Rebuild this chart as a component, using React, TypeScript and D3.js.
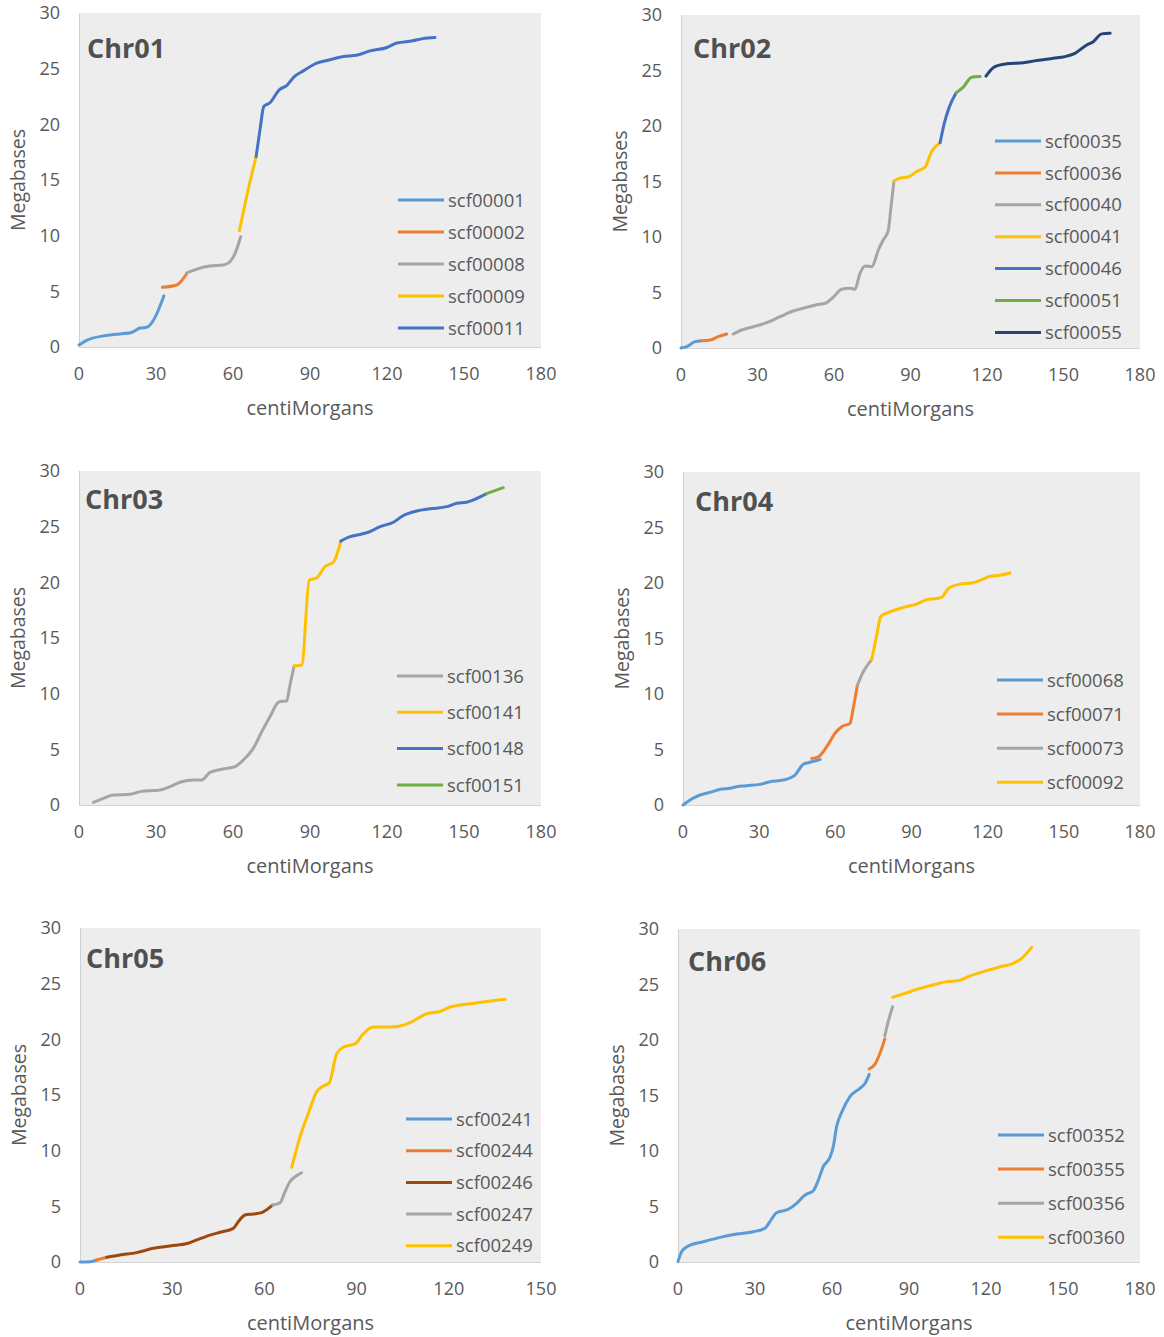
import React from "react";
import * as d3 from "d3";

type Pt = [number, number];

// Marker positions (centiMorgans) against physical positions (Megabases), one array per scaffold.
const chr01_scf00001: Pt[] = [[0, 0.18], [3, 0.6], [9.5, 1.0], [16, 1.17], [20.5, 1.3], [23.8, 1.7], [26.4, 1.77], [29, 2.4], [30.9, 3.3], [33.1, 4.6]];
const chr01_scf00002: Pt[] = [[32.5, 5.36], [38, 5.57], [40, 5.96], [42, 6.6]];
const chr01_scf00008: Pt[] = [[42, 6.65], [45.9, 7.0], [51, 7.27], [56.2, 7.36], [58.8, 7.66], [60.8, 8.4], [63, 9.9]];
const chr01_scf00009: Pt[] = [[62.5, 10.45], [65.3, 13.5], [69, 17.1]];
const chr01_scf00011: Pt[] = [[69, 17.1], [70.5, 19.5], [72, 21.6], [74.4, 21.94], [78, 23.1], [81, 23.5], [83.8, 24.27], [87.4, 24.8], [92.6, 25.5], [97.8, 25.8], [103, 26.1], [108, 26.2], [113.4, 26.6], [120, 26.9], [123.8, 27.3], [130, 27.5], [134, 27.7], [138.7, 27.8]];

const chr02_scf00035: Pt[] = [[0, 0], [2.2, 0.12], [5.5, 0.57], [8.1, 0.66]];
const chr02_scf00036: Pt[] = [[8.1, 0.66], [11.4, 0.72], [14.6, 1.02], [17.9, 1.26]];
const chr02_scf00040: Pt[] = [[20.5, 1.26], [23.8, 1.62], [28.4, 1.92], [33.6, 2.28], [38.8, 2.82], [44, 3.33], [48, 3.58], [53.2, 3.9], [56.5, 4.03], [59.7, 4.57], [63, 5.29], [66.3, 5.38], [68.2, 5.29], [70.2, 6.73], [72.2, 7.39], [74.8, 7.33], [77.4, 8.83], [79.3, 9.73], [81.3, 10.6], [82.2, 12.4], [83.5, 15.0]];
const chr02_scf00041: Pt[] = [[83.5, 15.05], [85.9, 15.3], [89.1, 15.4], [92.4, 15.9], [95.7, 16.3], [98.3, 17.7], [101.6, 18.5]];
const chr02_scf00046: Pt[] = [[101.6, 18.5], [103.2, 20.2], [105.2, 21.7], [107.9, 23.0]];
const chr02_scf00051: Pt[] = [[107.9, 23.0], [110.7, 23.5], [114, 24.4], [117.3, 24.45]];
const chr02_scf00055: Pt[] = [[119.6, 24.5], [123.1, 25.35], [127.7, 25.6], [134.2, 25.7], [139.5, 25.9], [146, 26.1], [150.6, 26.25], [154.5, 26.55], [159.1, 27.3], [161.7, 27.6], [165, 28.3], [168.3, 28.35]];

const chr03_scf00136: Pt[] = [[5.6, 0.24], [9.5, 0.6], [13.4, 0.9], [19.9, 0.96], [23.8, 1.2], [31.6, 1.35], [35.5, 1.65], [39.4, 2.04], [44.5, 2.25], [47.8, 2.25], [51, 2.93], [56.2, 3.23], [60.8, 3.44], [64, 4.04], [67.9, 5.09], [71.2, 6.58], [74.4, 7.93], [78, 9.28], [80.9, 9.34], [82.2, 10.78], [83.8, 12.48]];
const chr03_scf00141: Pt[] = [[83.8, 12.48], [86.8, 12.57], [89.7, 20.2], [92.6, 20.4], [95.8, 21.4], [99.1, 21.8], [102, 23.7]];
const chr03_scf00148: Pt[] = [[102, 23.7], [105.6, 24.1], [109.5, 24.3], [112.7, 24.5], [117.3, 25.0], [122.5, 25.4], [126.4, 26.0], [131.6, 26.4], [136.8, 26.6], [143.3, 26.8], [147.2, 27.1], [151, 27.2], [158.8, 27.97]];
const chr03_scf00151: Pt[] = [[158.8, 27.97], [165.3, 28.5]];

const chr04_scf00068: Pt[] = [[0, 0], [2.8, 0.45], [6.7, 0.9], [10.6, 1.14], [15.2, 1.44], [18.5, 1.5], [21.1, 1.65], [25.1, 1.74], [30.3, 1.86], [34.3, 2.1], [39.5, 2.25], [44.1, 2.7], [47.4, 3.67], [49.4, 3.81], [54, 4.1]];
const chr04_scf00071: Pt[] = [[50.7, 4.2], [53.3, 4.35], [56.6, 5.25], [59.9, 6.46], [62.5, 7.05], [65.8, 7.36], [66.8, 8.4], [68.7, 10.8]];
const chr04_scf00073: Pt[] = [[68.7, 10.8], [71, 12.0], [74.3, 13.1]];
const chr04_scf00092: Pt[] = [[74.3, 13.1], [76.3, 15.3], [77.9, 17.0], [81.5, 17.4], [86.8, 17.8], [92, 18.1], [96, 18.5], [99.9, 18.6], [101.9, 18.7], [104.5, 19.5], [109.1, 19.9], [113.7, 20.0], [117.7, 20.3], [120.9, 20.6], [124.9, 20.7], [128.8, 20.9]];

const chr05_scf00241: Pt[] = [[0, 0], [3.3, 0.03], [5.4, 0.18]];
const chr05_scf00244: Pt[] = [[5.4, 0.18], [8.7, 0.42]];
const chr05_scf00246: Pt[] = [[8.7, 0.42], [13, 0.63], [18.4, 0.84], [23.9, 1.23], [29.3, 1.44], [35.2, 1.68], [38, 1.98], [42.3, 2.42], [45.6, 2.67], [49.9, 3.02], [51.5, 3.62], [53.7, 4.22], [56.4, 4.31], [59.1, 4.43], [62.7, 5.12]];
const chr05_scf00247: Pt[] = [[62.7, 5.12], [65.1, 5.33], [66.7, 6.31], [68.3, 7.21], [70, 7.66], [72.1, 8.02]];
const chr05_scf00249: Pt[] = [[68.9, 8.5], [71.6, 11.25], [74.3, 13.35], [77, 15.3], [79.2, 15.8], [81.1, 16.1], [83.5, 18.7], [85.7, 19.3], [89.5, 19.6], [92.2, 20.5], [95.4, 21.1], [100.9, 21.1], [107.4, 21.5], [110.6, 22.0], [112.8, 22.3], [117.1, 22.5], [120.4, 22.9], [126.9, 23.2], [132.3, 23.4], [138.3, 23.6]];

const chr06_scf00352: Pt[] = [[0, 0.03], [1.4, 0.93], [4, 1.44], [9.9, 1.83], [16.4, 2.22], [22.9, 2.52], [29.3, 2.73], [33.9, 3.04], [35.8, 3.63], [38.4, 4.44], [43, 4.75], [46.2, 5.29], [49.5, 6.04], [52.7, 6.42], [54.7, 7.39], [56.6, 8.59], [59.2, 9.43], [60.5, 10.4], [61.8, 12.2], [63.8, 13.5], [67, 14.9], [70.9, 15.65], [72.9, 16.1], [74.5, 16.9]];
const chr06_scf00355: Pt[] = [[74.5, 17.4], [76.7, 17.8], [78.7, 18.8], [80.6, 20.1]];
const chr06_scf00356: Pt[] = [[80.6, 20.4], [81.9, 21.65], [83.6, 23.0]];
const chr06_scf00360: Pt[] = [[83.6, 23.85], [87.8, 24.15], [94.3, 24.65], [100.8, 25.05], [104.7, 25.26], [109.2, 25.35], [113.8, 25.77], [120.3, 26.25], [125.5, 26.6], [130.6, 26.9], [133.9, 27.36], [137.8, 28.35]];

const chromosomes = ["Chr01", "Chr02", "Chr03", "Chr04", "Chr05", "Chr06"];
const yTicks = [0, 5, 10, 15, 20, 25, 30];
const xTicks180 = [0, 30, 60, 90, 120, 150, 180];
const xTicks150 = [0, 30, 60, 90, 120, 150];

type Series = { name: string; points: Pt[] };

const seriesByChr: Series[][] = [
  [
    { name: "scf00001", points: chr01_scf00001 },
    { name: "scf00002", points: chr01_scf00002 },
    { name: "scf00008", points: chr01_scf00008 },
    { name: "scf00009", points: chr01_scf00009 },
    { name: "scf00011", points: chr01_scf00011 },
  ],
  [
    { name: "scf00035", points: chr02_scf00035 },
    { name: "scf00036", points: chr02_scf00036 },
    { name: "scf00040", points: chr02_scf00040 },
    { name: "scf00041", points: chr02_scf00041 },
    { name: "scf00046", points: chr02_scf00046 },
    { name: "scf00051", points: chr02_scf00051 },
    { name: "scf00055", points: chr02_scf00055 },
  ],
  [
    { name: "scf00136", points: chr03_scf00136 },
    { name: "scf00141", points: chr03_scf00141 },
    { name: "scf00148", points: chr03_scf00148 },
    { name: "scf00151", points: chr03_scf00151 },
  ],
  [
    { name: "scf00068", points: chr04_scf00068 },
    { name: "scf00071", points: chr04_scf00071 },
    { name: "scf00073", points: chr04_scf00073 },
    { name: "scf00092", points: chr04_scf00092 },
  ],
  [
    { name: "scf00241", points: chr05_scf00241 },
    { name: "scf00244", points: chr05_scf00244 },
    { name: "scf00246", points: chr05_scf00246 },
    { name: "scf00247", points: chr05_scf00247 },
    { name: "scf00249", points: chr05_scf00249 },
  ],
  [
    { name: "scf00352", points: chr06_scf00352 },
    { name: "scf00355", points: chr06_scf00355 },
    { name: "scf00356", points: chr06_scf00356 },
    { name: "scf00360", points: chr06_scf00360 },
  ],
];

// Office-style palette per scaffold
const BLUE = "#5B9BD5", ORANGE = "#ED7D31", GRAY = "#A5A5A5", GOLD = "#FFC000",
  DBLUE = "#4472C4", GREEN = "#70AD47", NAVY = "#264478", BROWN = "#9E480E";
const colorOf: Record<string, string> = {
  scf00001: BLUE, scf00002: ORANGE, scf00008: GRAY, scf00009: GOLD, scf00011: DBLUE,
  scf00035: BLUE, scf00036: ORANGE, scf00040: GRAY, scf00041: GOLD, scf00046: DBLUE, scf00051: GREEN, scf00055: NAVY,
  scf00136: GRAY, scf00141: GOLD, scf00148: DBLUE, scf00151: GREEN,
  scf00068: BLUE, scf00071: ORANGE, scf00073: GRAY, scf00092: GOLD,
  scf00241: BLUE, scf00244: ORANGE, scf00246: BROWN, scf00247: GRAY, scf00249: GOLD,
  scf00352: BLUE, scf00355: ORANGE, scf00356: GRAY, scf00360: GOLD,
};

// Panel frames: plot rectangle, x-axis max, title offsets and legend placement
const layout = [
  { l: 79, r: 541, t: 13, b: 347, xMax: 180, tx: 8, ty: 45, lgX: 398, lgY: 200, lgDy: 32 },
  { l: 681, r: 1140, t: 15, b: 348, xMax: 180, tx: 12, ty: 43, lgX: 995, lgY: 141, lgDy: 31.9 },
  { l: 79, r: 541, t: 471, b: 805, xMax: 180, tx: 6, ty: 38, lgX: 397, lgY: 676, lgDy: 36.3 },
  { l: 683, r: 1140, t: 472, b: 805, xMax: 180, tx: 12, ty: 39, lgX: 997, lgY: 680, lgDy: 34.1 },
  { l: 80, r: 541, t: 928, b: 1262, xMax: 150, tx: 6, ty: 40, lgX: 406, lgY: 1119, lgDy: 31.7 },
  { l: 678, r: 1140, t: 929, b: 1262, xMax: 180, tx: 10, ty: 42, lgX: 998, lgY: 1135, lgDy: 34.1 },
];

const FONT = "'Open Sans', 'Liberation Sans', sans-serif";
const TEXT = "#595959";

function Panel({ idx }: { idx: number }) {
  const f = layout[idx];
  const x = d3.scaleLinear().domain([0, f.xMax]).range([f.l, f.r]);
  const y = d3.scaleLinear().domain([0, 30]).range([f.b, f.t]);
  const line = d3.line<Pt>().x((d) => x(d[0])).y((d) => y(d[1])).curve(d3.curveMonotoneX);
  const xTicks = f.xMax === 150 ? xTicks150 : xTicks180;
  const series = seriesByChr[idx];
  const cx = (f.l + f.r) / 2;
  const cy = (f.t + f.b) / 2;
  return (
    <g>
      <rect x={f.l} y={f.t} width={f.r - f.l} height={f.b - f.t} fill="#EDEDED" />
      <line x1={f.l + 0.5} x2={f.l + 0.5} y1={f.t} y2={f.b} stroke="#CFCFCF" strokeWidth={1} />
      <line x1={f.l} x2={f.r} y1={f.b + 0.5} y2={f.b + 0.5} stroke="#D4D4D4" strokeWidth={1} />
      {yTicks.map((v) => (
        <text key={"y" + v} x={f.l - 19} y={y(v)} dy="0.36em" textAnchor="end" fontFamily={FONT} fontSize={18} fill={TEXT}>
          {v}
        </text>
      ))}
      {xTicks.map((v) => (
        <text key={"x" + v} x={x(v)} y={f.b + 27} dy="0.36em" textAnchor="middle" fontFamily={FONT} fontSize={18} fill={TEXT}>
          {v}
        </text>
      ))}
      <text x={cx} y={f.b + 61} dy="0.36em" textAnchor="middle" fontFamily={FONT} fontSize={20} fill={TEXT}>
        centiMorgans
      </text>
      <text transform={`translate(${f.l - 61},${cy}) rotate(-90)`} dy="0.36em" textAnchor="middle" fontFamily={FONT} fontSize={19.5} fill={TEXT}>
        Megabases
      </text>
      <text x={f.l + f.tx} y={f.t + f.ty} fontFamily={FONT} fontSize={27} fontWeight="bold" fill="#505050">
        {chromosomes[idx]}
      </text>
      {series.map((s) => (
        <path key={s.name} d={line(s.points) || ""} fill="none" stroke={colorOf[s.name]} strokeWidth={3} strokeLinecap="round" strokeLinejoin="round" />
      ))}
      {series.map((s, i) => (
        <g key={"lg" + s.name} transform={`translate(${f.lgX},${f.lgY + i * f.lgDy})`}>
          <line x1={0} x2={46} y1={0} y2={0} stroke={colorOf[s.name]} strokeWidth={3} />
          <text x={50} y={0} dy="0.36em" fontFamily={FONT} fontSize={18.5} fill={TEXT}>
            {s.name}
          </text>
        </g>
      ))}
    </g>
  );
}

export default function App() {
  return (
    <svg width={1164} height={1337} style={{ position: "absolute", left: 0, top: 0, background: "#FFFFFF" }}>
      {chromosomes.map((c, i) => (
        <Panel key={c} idx={i} />
      ))}
    </svg>
  );
}
